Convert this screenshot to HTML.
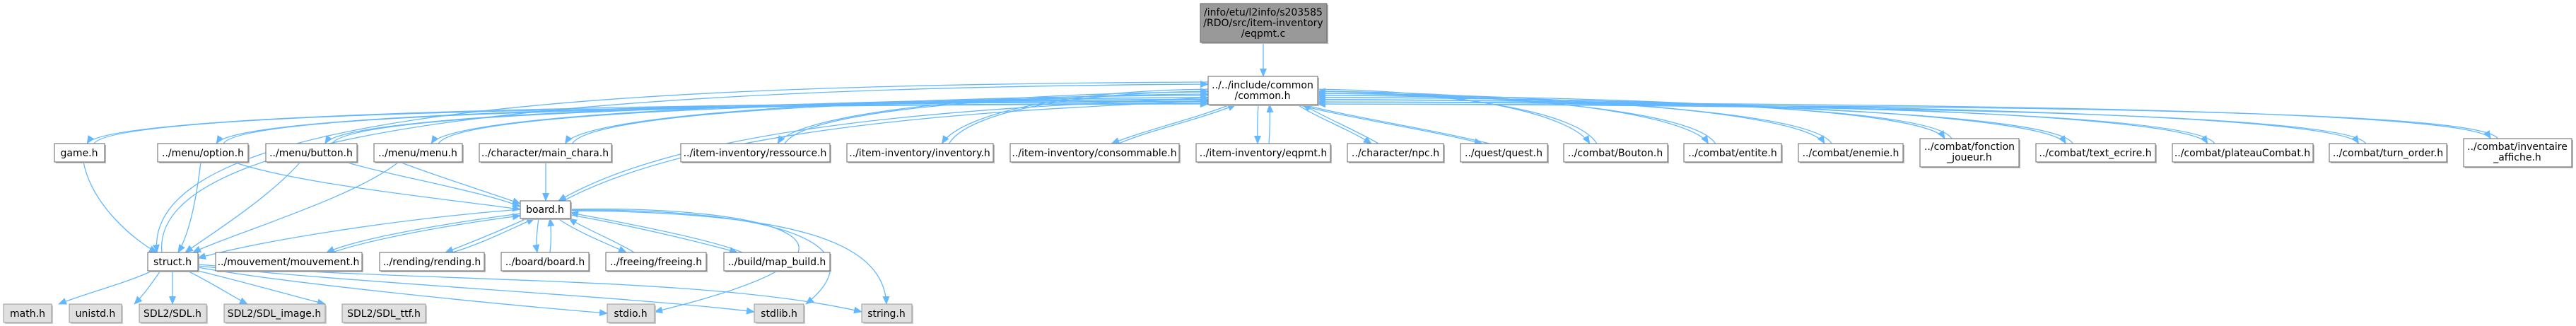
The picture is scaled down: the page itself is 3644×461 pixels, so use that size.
<!DOCTYPE html>
<html><head><meta charset="utf-8">
<style>
html,body{margin:0;padding:0;background:#fff;}
svg{display:block;}
text{font-family:"DejaVu Sans","Liberation Sans",sans-serif;font-size:14px;fill:#000;}
</style></head>
<body>
<svg id="s" width="3644" height="461" viewBox="0 0 3644 461" xmlns="http://www.w3.org/2000/svg">
<defs>
<marker id="a" markerWidth="12" markerHeight="10" refX="11" refY="5" orient="auto" markerUnits="userSpaceOnUse">
<path d="M0,0 L12,5 L0,10 z" fill="#63b8ff"/>
</marker>
</defs>
<g id="edges" fill="none" stroke="#63b8ff" stroke-width="1.3"></g>
<g id="nodes">
<!-- top -->
<rect x="1700" y="7" width="179" height="55" fill="#bbb"/>
<rect x="1698" y="5" width="179" height="55" fill="#999" stroke="#666"/>
<text x="1787" y="22" text-anchor="middle">/info/etu/l2info/s203585</text>
<text x="1787" y="37" text-anchor="middle">/RDO/src/item-inventory</text>
<text x="1787" y="52" text-anchor="middle">/eqpmt.c</text>
<!-- common -->
<rect x="1711" y="110" width="155" height="40" fill="#bbb"/>
<rect x="1709" y="108" width="155" height="40" fill="#fff" stroke="#666"/>
<text x="1786" y="125" text-anchor="middle">../../include/common</text>
<text x="1786" y="140" text-anchor="middle">/common.h</text>
</g>
</svg>
<script>
(function(){
var NS="http://www.w3.org/2000/svg";
var nodes=document.getElementById("nodes"),edges=document.getElementById("edges");
function box(x1,x2,y1,y2,fill,stroke,shadow){
 var r=document.createElementNS(NS,"rect");
 r.setAttribute("x",x1+2);r.setAttribute("y",y1+2);r.setAttribute("width",x2-x1);r.setAttribute("height",y2-y1);r.setAttribute("fill",shadow);nodes.appendChild(r);
 r=document.createElementNS(NS,"rect");
 r.setAttribute("x",x1);r.setAttribute("y",y1);r.setAttribute("width",x2-x1);r.setAttribute("height",y2-y1);r.setAttribute("fill",fill);r.setAttribute("stroke",stroke);nodes.appendChild(r);
}
var R2=[[77,148],[223,351],[376,505],[529,654],[678,865],[963,1174],[1198,1405],[1429,1668],[1692,1882],[1906,2042],[2066,2189],[2212,2359],[2382,2520],[2544,2692],[2716,2856,1],[2880,3049],[3073,3272],[3295,3461],[3485,3638,1]];
R2.forEach(function(n){ if(n[2]) box(n[0],n[1],196,236,"#fff","#666","#bbb"); else box(n[0],n[1],203,229,"#fff","#666","#bbb");});
var R3=[[209,280],[305,512],[537,685],[709,833],[857,999],[1024,1174]];
R3.forEach(function(n){box(n[0],n[1],357,383,"#fff","#666","#bbb");});
box(736,807,284,309,"#fff","#666","#bbb");
var R4=[[5,73],[98,172],[197,292],[317,460],[484,602],[859,926],[1067,1137],[1219,1290]];
R4.forEach(function(n){box(n[0],n[1],430,456,"#e0e0e0","#999","#ccc");});
function path(d){var p=document.createElementNS(NS,"path");p.setAttribute("d",d);p.setAttribute("marker-end","url(#a)");edges.appendChild(p);}
function cub(x1,y1,cx1,cy1,cx2,cy2,x2,y2){path("M"+x1+","+y1+" C"+cx1+","+cy1+" "+cx2+","+cy2+" "+x2+","+y2);}
// top -> common
path("M1787,60 L1787,108");
// common <-> row2 nodes
R2.forEach(function(n,i){
 var top=n[2]?196:203, w=n[1]-n[0];
 var tx=n[0]+w*0.65, bx=tx+10;
 var mid=(n[0]+n[1])/2;
 if(i===8){ // eqpmt.h
   cub(1780,148,1778,175,1779,190,1779,top);
   path("M1795,"+top+" C1796,190 1797,175 1796,148");
   return;
 }
 var left = mid<1787;
 var sx = left?1709:1864;
 var k = Math.abs(mid-1787);
 var sy = 118 + Math.min(26,k/60);
 if(k<350){ sx = left?1740:1835; sy=148; tx = left? n[0]+w*0.6 : n[0]+w*0.25; bx = tx+10;
   cub(sx,sy,sx+(tx-sx)*0.3,sy+20,tx+(sx-tx)*0.3,top-20,tx,top);
   cub(bx,top,bx+(sx-bx)*0.3,top-20,sx+8+(bx-sx)*0.3,sy+20,sx+8,sy);
   return;}
 if(!left){tx=n[0]+w*0.25;bx=tx+10;}
 cub(sx,sy,sx+(tx-sx)*0.55,sy+2,tx+(left?25:-25),top-40,tx,top);
 cub(bx,top,bx+(left?25:-25),top-42,sx+(bx-sx)*0.55,sy+5,sx,sy+3);
});
// common <-> struct
cub(1709,116,900,120,200,150,222,357);
cub(229,357,210,170,900,124,1709,119);
// common <-> board
cub(1709,138,1500,150,1000,160,790,284);
cub(797,284,1020,165,1500,154,1709,142);
// row2 -> board
cub(565,229,620,250,700,275,736,288);
cub(488,229,560,250,680,270,736,292);
cub(330,229,420,260,620,280,736,296);
cub(772,229,772,250,772,265,772,284);
// row2 -> struct
cub(118,229,130,290,190,340,222,357);
cub(284,229,278,280,268,330,252,357);
cub(425,229,380,280,300,330,262,357);
cub(564,229,500,280,330,330,273,357);
// board -> struct
cub(736,296,560,310,370,340,280,365);
// board <-> row3
cub(736,302,600,320,500,340,462,357); cub(470,357,520,340,620,320,736,305);
cub(745,309,700,330,660,345,630,357); cub(640,357,680,345,720,325,756,309);
cub(762,309,759,330,758,345,760,357); cub(778,357,780,340,780,325,778,309);
cub(789,309,820,330,860,345,886,357); cub(897,357,870,340,830,325,805,309);
cub(807,304,900,320,1000,345,1043,357); cub(1050,357,1010,340,900,318,807,301);
// board -> stdio / stdlib / string
cub(807,296,1100,290,1300,350,926,441);
cub(807,297,1120,295,1240,350,1140,430);
cub(807,298,1150,300,1250,350,1254,430);
// struct -> system headers
cub(215,383,180,400,120,415,83,430);
cub(227,383,215,400,205,415,190,430);
cub(244,383,244,400,244,415,244,430);
cub(265,383,300,400,330,420,350,430);
cub(280,383,350,400,420,420,460,430);
cub(280,378,400,400,700,430,859,443);
cub(280,376,500,400,900,420,1067,441);
cub(280,374,600,400,1000,390,1219,441);
})();
</script>
<svg width="0" height="0" style="position:absolute">
</svg>
<div style="display:none"></div>
<svg width="3644" height="461" style="position:absolute;left:0;top:0;pointer-events:none" xmlns="http://www.w3.org/2000/svg">
<g font-family="DejaVu Sans, Liberation Sans, sans-serif" font-size="14" text-anchor="middle" fill="#000">
<text x="112" y="221">game.h</text>
<text x="287" y="221">../menu/option.h</text>
<text x="440" y="221">../menu/button.h</text>
<text x="591" y="221">../menu/menu.h</text>
<text x="771" y="221">../character/main_chara.h</text>
<text x="1068" y="221">../item-inventory/ressource.h</text>
<text x="1301" y="221">../item-inventory/inventory.h</text>
<text x="1548" y="221">../item-inventory/consommable.h</text>
<text x="1787" y="221">../item-inventory/eqpmt.h</text>
<text x="1974" y="221">../character/npc.h</text>
<text x="2127" y="221">../quest/quest.h</text>
<text x="2285" y="221">../combat/Bouton.h</text>
<text x="2451" y="221">../combat/entite.h</text>
<text x="2618" y="221">../combat/enemie.h</text>
<text x="2786" y="212">../combat/fonction</text>
<text x="2786" y="227">_joueur.h</text>
<text x="2964" y="221">../combat/text_ecrire.h</text>
<text x="3172" y="221">../combat/plateauCombat.h</text>
<text x="3378" y="221">../combat/turn_order.h</text>
<text x="3561" y="212">../combat/inventaire</text>
<text x="3561" y="227">_affiche.h</text>
<text x="771" y="301">board.h</text>
<text x="244" y="375">struct.h</text>
<text x="408" y="375">../mouvement/mouvement.h</text>
<text x="611" y="375">../rending/rending.h</text>
<text x="771" y="375">../board/board.h</text>
<text x="928" y="375">../freeing/freeing.h</text>
<text x="1099" y="375">../build/map_build.h</text>
<text x="39" y="448">math.h</text>
<text x="135" y="448">unistd.h</text>
<text x="244" y="448">SDL2/SDL.h</text>
<text x="388" y="448">SDL2/SDL_image.h</text>
<text x="543" y="448">SDL2/SDL_ttf.h</text>
<text x="892" y="448">stdio.h</text>
<text x="1102" y="448">stdlib.h</text>
<text x="1254" y="448">string.h</text>
</g>
</svg>
</body></html>
